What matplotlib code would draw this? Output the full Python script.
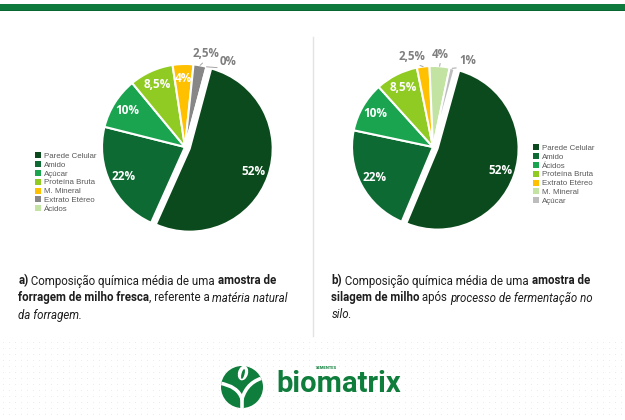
import matplotlib.pyplot as plt
import numpy as np
from matplotlib.patches import Rectangle, Circle, Ellipse, Patch, PathPatch
from matplotlib.path import Path
from matplotlib.font_manager import findfont, FontProperties
from matplotlib.ft2font import FT2Font

# a) forragem de milho fresca
left_names = ['Parede Celular', 'Amido', 'Açúcar', 'Proteína Bruta', 'M. Mineral', 'Extrato Etéreo', 'Ácidos']
left_values = [52, 22, 10, 8.5, 4, 2.5, 0]
left_texts = ['52%', '22%', '10%', '8,5%', '4%', '2,5%', '0%']

# b) silagem de milho
right_names = ['Parede Celular', 'Amido', 'Ácidos', 'Proteína Bruta', 'Extrato Etéreo', 'M. Mineral', 'Açúcar']
right_values = [52, 22, 10, 8.5, 2.5, 4, 1]
right_texts = ['52%', '22%', '10%', '8,5%', '2,5%', '4%', '1%']

left_caption = [
    [('a)', 'b'), (' Composição química média de uma ', 'n'), ('amostra de', 'b')],
    [('forragem de milho fresca', 'b'), (', referente a ', 'n'), ('matéria natural', 'i')],
    [('da forragem.', 'i')],
]
right_caption = [
    [('b)', 'b'), (' Composição química média de uma ', 'n'), ('amostra de', 'b')],
    [('silagem de milho', 'b'), (' após ', 'n'), ('processo de fermentação no', 'i')],
    [('silo.', 'i')],
]

colors = {
    'Parede Celular': '#0b4a1c',
    'Amido': '#0e6a33',
    'Açúcar': '#1aa44f',
    'Proteína Bruta': '#8fcb22',
    'M. Mineral': '#ffc000',
    'Extrato Etéreo': '#878787',
    'Ácidos': '#c3e3a2',
}
colors_b = dict(colors)
colors_b['Ácidos'] = '#1aa44f'
colors_b['Extrato Etéreo'] = '#ffc000'
colors_b['M. Mineral'] = '#c3e3a2'
colors_b['Açúcar'] = '#bdbdbd'

W, H = 625, 420
fig = plt.figure(figsize=(W / 100, H / 100), dpi=100)
fig.patch.set_facecolor('white')

# background: top bar, divider, dotted band, logo
bg = fig.add_axes([0, 0, 1, 1])
bg.set_xlim(0, W)
bg.set_ylim(H, 0)
bg.axis('off')
bg.add_patch(Rectangle((0, 4), W, 7, color='#0e7a3b', lw=0))
bg.add_patch(Rectangle((0, 10), W, 1, color='#0a6630', lw=0))
bg.plot([313, 313], [37, 336], color='#e3e3e3', lw=1)
gx, gy = np.meshgrid(np.arange(3, W, 6), np.arange(342, H, 6))
bg.scatter(gx.ravel(), gy.ravel(), s=0.5, color='#ececec', lw=0)

green = '#0f7d3b'
disk = Circle((242, 387), 21, color=green, lw=0)
bg.add_patch(disk)
bg.add_patch(Ellipse((243, 373), 10, 15, angle=15, color='white', lw=0))
bg.add_patch(Ellipse((243, 374), 3, 10, angle=15, color=green, lw=0))
strokes = [
    [(219, 383), (238, 386), (242, 399)],
    [(242, 399), (247, 381), (266, 377)],
    [(242, 397), (242, 404), (242, 410)],
]
for pts in strokes:
    pp = PathPatch(Path(pts, [Path.MOVETO, Path.CURVE3, Path.CURVE3]),
                   fill=False, edgecolor='white', lw=2.6, capstyle='round')
    bg.add_patch(pp)
    pp.set_clip_path(disk)
bg.text(276, 384, 'biomatrix', fontsize=21, fontweight='bold', family='Roboto',
        color=green, va='center', ha='left')
bg.text(326, 368, 'SEMENTES', fontsize=3, fontweight='bold', family='Roboto',
        color=green, va='center', ha='center')


def draw_pie(cx, cy, r, values, names, texts, cmap, start, outside, nudges):
    span = 1.5
    ax = fig.add_axes([(cx - span * r) / W, (H - cy - span * r) / H,
                       2 * span * r / W, 2 * span * r / H])
    explode = [0.06] + [0] * (len(values) - 1)
    wedges, _ = ax.pie(values, colors=[cmap[n] for n in names], explode=explode,
                       startangle=start, counterclock=False,
                       wedgeprops=dict(edgecolor='white', linewidth=1.5))
    ax.set_xlim(-span, span)
    ax.set_ylim(-span, span)
    for i, (w, t) in enumerate(zip(wedges, texts)):
        mid = np.deg2rad((w.theta1 + w.theta2) / 2)
        ox, oy = w.center
        if i in outside:
            a = mid + np.deg2rad(nudges[outside.index(i)])
            ax.annotate(t, xy=(ox + np.cos(mid), oy + np.sin(mid)),
                        xytext=(1.15 * np.cos(a), 1.15 * np.sin(a)),
                        ha='center', va='center', color='#7f7f7f', fontsize=8.3,
                        fontweight='bold', family='Open Sans',
                        arrowprops=dict(arrowstyle='-', color='#a6a6a6', lw=0.7,
                                        shrinkA=0, shrinkB=0, relpos=(0.5, 0)))
        else:
            ax.text(ox + 0.82 * np.cos(mid), oy + 0.82 * np.sin(mid), t,
                    ha='center', va='center', color='white', fontsize=8.5,
                    fontweight='bold', family='Open Sans')
    handles = [Patch(facecolor=cmap[n]) for n in names]
    return handles


h1 = draw_pie(185, 147, 83, left_values, left_names, left_texts, colors, 75,
              [5, 6], [-2, -12])
h2 = draw_pie(433, 147, 81, right_values, right_names, right_texts, colors_b, 74.5,
              [4, 5, 6], [6, 0, -8])

for handles, names, x0, y0 in [(h1, left_names, 35, 152), (h2, right_names, 533, 144)]:
    fig.legend(handles, names, loc='upper left', bbox_to_anchor=(x0 / W, 1 - y0 / H),
               frameon=False, labelspacing=0.14, handlelength=0.8,
               handleheight=0.8, handletextpad=0.35, borderpad=0, borderaxespad=0,
               labelcolor='#595959', prop=dict(family='Liberation Sans', size=5.7))


def seg_font(style, size):
    prop = FontProperties(family='Roboto', weight='bold' if style == 'b' else 'normal',
                          style='italic' if style == 'i' else 'normal')
    f = FT2Font(findfont(prop))
    f.set_size(size, 100)
    return prop, f


def rich_line(x, y, parts, size=8.3):
    # each piece starts where the pen of the previous one stopped
    for s, style in parts:
        prop, f = seg_font(style, size)
        lsb = 0 if s[0] == ' ' else f.load_char(ord(s[0])).horiBearingX / 64
        fig.text((x + lsb) / W, 1 - y / H, s, fontproperties=prop, fontsize=size,
                 color='#1e1e1e', va='center', ha='left')
        x += sum(f.load_char(ord(c)).linearHoriAdvance for c in s) / 65536


for x0, lines in [(18, left_caption), (331, right_caption)]:
    for k, parts in enumerate(lines):
        rich_line(x0, 281 + 17 * k, parts)

fig.savefig('out.png', dpi=100)
